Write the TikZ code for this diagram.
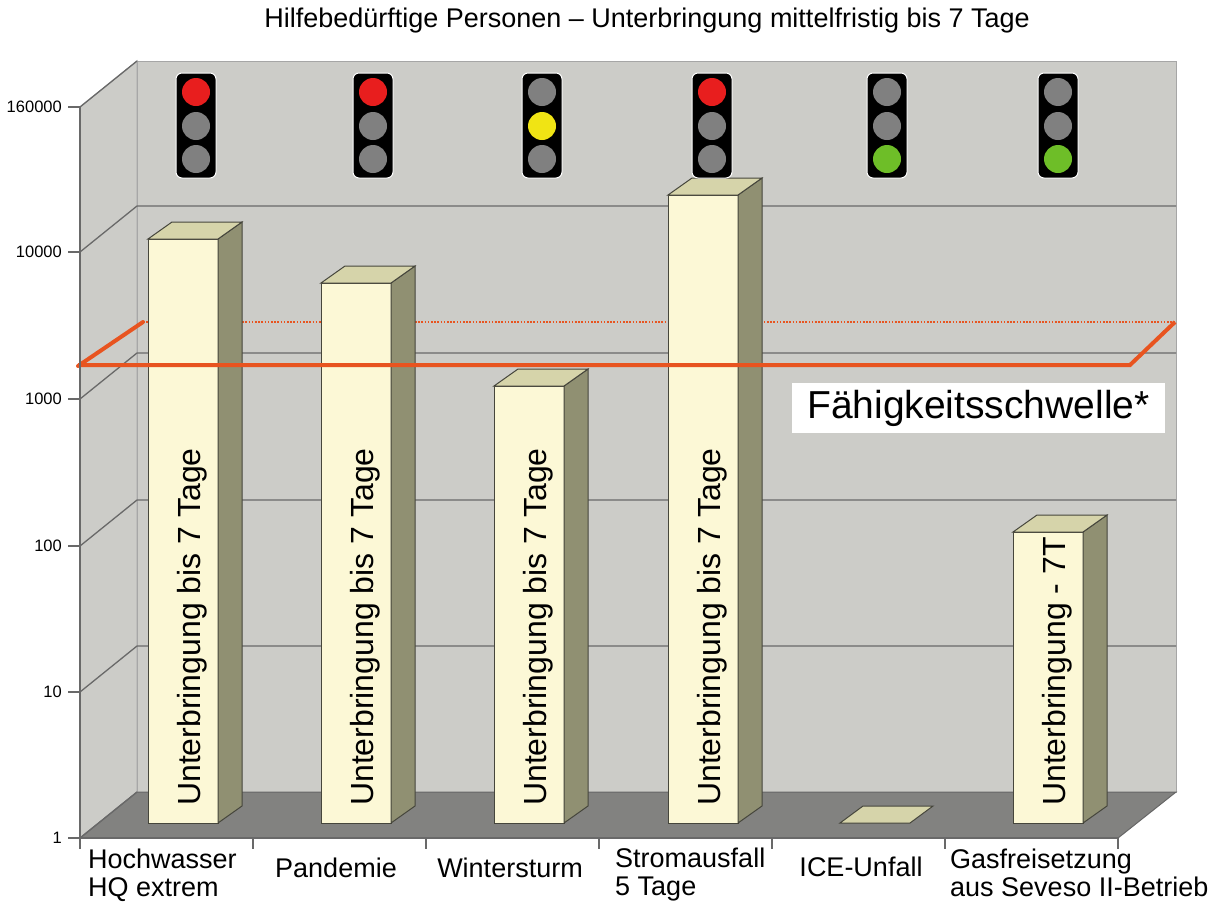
\documentclass[tikz,border=0pt]{standalone}
\usepackage{fontspec}
\setmainfont{Liberation Sans}
\definecolor{wallc}{RGB}{204,204,200}
\definecolor{floorc}{RGB}{130,130,128}
\definecolor{gridc}{RGB}{105,105,105}
\definecolor{creamc}{RGB}{252,248,214}
\definecolor{sidec}{RGB}{144,144,114}
\definecolor{topc}{RGB}{214,212,170}
\definecolor{edgec}{RGB}{70,70,60}
\definecolor{orangec}{RGB}{232,84,32}
\definecolor{redlamp}{RGB}{232,30,30}
\definecolor{graylamp}{RGB}{128,128,128}
\definecolor{yellamp}{RGB}{240,228,20}
\definecolor{greenlamp}{RGB}{110,190,40}
\tikzset{
  wall/.style={fill=wallc,draw=gray!70,line width=1pt},
  floorpane/.style={fill=floorc,draw=gray!80!black,line width=1pt},
  gridline/.style={draw=gridc,line width=1.3pt},
  axisline/.style={draw=gridc,line width=1.3pt},
  barfront/.style={fill=creamc,draw=edgec,line width=1pt},
  barside/.style={fill=sidec,draw=edgec,line width=1pt},
  bartop/.style={fill=topc,draw=edgec,line width=1pt},
  thresh/.style={draw=orangec,line width=4pt},
  threshdot/.style={draw=orangec,line width=1.6pt,dash pattern=on 1.6pt off 1.6pt},
  housing/.style={fill=black,draw=white,line width=1pt,rounded corners=6pt},
  lamp/.style={circle,minimum size=28pt,inner sep=0pt},
  barlabel/.style={rotate=90,anchor=base west,inner sep=0pt,font=\fontsize{32}{32}\selectfont},
  catlabel/.style={align=left,inner sep=0pt,font=\fontsize{27}{28}\selectfont},
  ylabel/.style={anchor=east,inner sep=0pt,font=\fontsize{16.5}{16}\selectfont},
}
\newcommand\mybar[2]{%
  \filldraw[barfront] (#1,#2) rectangle (#1+70,823);
  \filldraw[barside] (#1+70,#2) -- (#1+94,#2-17) -- (#1+94,806) -- (#1+70,823) -- cycle;
  \filldraw[bartop] (#1,#2) -- (#1+24,#2-17) -- (#1+94,#2-17) -- (#1+70,#2) -- cycle;
}
\newcommand\myampel[5]{% x, name, top, mid, bottom colours
  \filldraw[housing] (#1-20,73) rectangle (#1+20,178);
  \node[lamp,fill=#3] (#2a) at (#1,92) {};
  \node[lamp,fill=#4] (#2b) at (#1,126) {};
  \node[lamp,fill=#5] (#2c) at (#1,159) {};
}
\begin{document}
\begin{tikzpicture}[x=1pt,y=-1pt]
\useasboundingbox (0,0) rectangle (1217,908);
\fill[white] (0,0) rectangle (1217,908);
% walls
\filldraw[wall] (137,61) rectangle (1176,792);
\filldraw[wall] (80,107) -- (137,61) -- (137,792) -- (80,838) -- cycle;
\filldraw[floorpane] (80,838) -- (137,792) -- (1176,792) -- (1118,838) -- cycle;
% grid lines
\foreach \fy in {692,546,399,252} {
  \draw[gridline] (80,\fy) -- (137,\fy-46) -- (1176,\fy-46);
}
\draw[gridline] (80,107) -- (137,61);
\draw[gridline] (80,838) -- (137,792);
% threshold (back part)
\draw[threshdot] (143,322) -- (1176,322);
\draw[thresh,line cap=round] (78,366) -- (143,322);
% bars
\mybar{148}{239}
\mybar{321}{283}
\mybar{494}{386}
\mybar{668}{195}
\filldraw[bartop] (840,823) -- (910,823) -- (933,806) -- (863,806) -- cycle;
\mybar{1013}{532}
\node[barlabel] (t1) at (200,806) {Unterbringung bis 7 Tage};
\node[barlabel] (t2) at (373,806) {Unterbringung bis 7 Tage};
\node[barlabel] (t3) at (546,806) {Unterbringung bis 7 Tage};
\node[barlabel] (t4) at (720,806) {Unterbringung bis 7 Tage};
\node[barlabel] (t6) at (1065,806) {Unterbringung - 7T};
% threshold (front part)
\draw[thresh,line join=miter] (78,365) -- (1130,365) -- (1175,322);
\node[fill=white,minimum width=373pt,minimum height=50pt,inner sep=0pt,font=\fontsize{39}{39}\selectfont] (fs) at (978.5,408) {Fähigkeitsschwelle*};
% traffic lights
\myampel{196}{l1}{redlamp}{graylamp}{graylamp}
\myampel{373}{l2}{redlamp}{graylamp}{graylamp}
\myampel{542}{l3}{graylamp}{yellamp}{graylamp}
\myampel{712}{l4}{redlamp}{graylamp}{graylamp}
\myampel{887}{l5}{graylamp}{graylamp}{greenlamp}
\myampel{1058}{l6}{graylamp}{graylamp}{greenlamp}
% axes
\draw[axisline] (80,107) -- (80,838) -- (1118,838);
\foreach \ty/\tl in {107/160000,252/10000,399/1000,546/100,692/10,838/1} {
  \draw[axisline] (68,\ty) -- (80,\ty);
  \node[ylabel] at (62,\ty) {\tl};
}
\foreach \tx in {80,253,426,599,772,945,1118} {
  \draw[axisline] (\tx,838) -- (\tx,849);
}
% category labels
\node[catlabel,anchor=west] (c1) at (88,875) {Hochwasser\\HQ extrem};
\node[catlabel] (c2) at (336,868) {Pandemie};
\node[catlabel] (c3) at (510,868) {Wintersturm};
\node[catlabel,anchor=west] (c4) at (615,875) {Stromausfall\\5 Tage};
\node[catlabel] (c5) at (861,867) {ICE-Unfall};
\node[catlabel,anchor=west] (c6) at (950,873) {Gasfreisetzung\\aus Seveso II-Betrieb};
% title
\node[inner sep=0pt,font=\fontsize{27}{27}\selectfont] (title) at (647,21) {Hilfebedürftige Personen – Unterbringung mittelfristig bis 7 Tage};
\end{tikzpicture}
\end{document}
